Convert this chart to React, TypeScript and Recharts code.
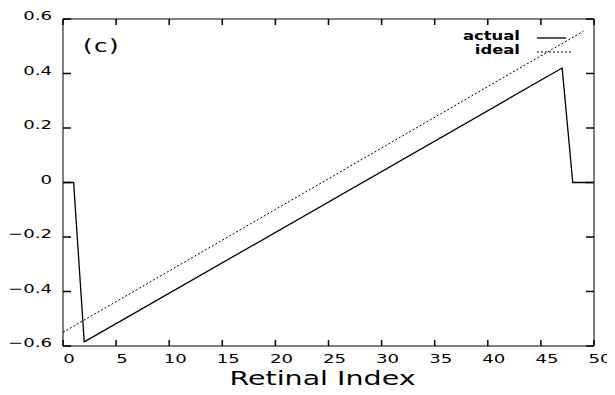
import React from 'react';
import { LineChart, Line, XAxis, YAxis, Label } from 'recharts';

const xTicks = [0, 5, 10, 15, 20, 25, 30, 35, 40, 45, 50];
const yTicks = [-0.6, -0.4, -0.2, 0, 0.2, 0.4, 0.6];

const actualIndex = [0, 1, 2, 47, 48, 50];
const actualValue = [0, 0, -0.585, 0.42, 0, 0];
const idealIndex = [0, 49];
const idealValue = [-0.55, 0.555];
const seriesNames = ['actual', 'ideal'];
const panelTag = '(c)';
const xTitle = 'Retinal Index';

const actualData = actualIndex.map((x, i) => ({ x, y: actualValue[i] }));
const idealData = idealIndex.map((x, i) => ({ x, y: idealValue[i] }));

const FONT = '"DejaVu Sans", sans-serif';
const YTICK = 8;
const XTICK = 6;
const SX = 1.45;

const fmt = (v: number) => String(v).replace('-', '\u2212');

function SText({ x, y, sx = SX, anchor = 'start', size = 12, weight = 'normal', spacing = 0, baseline = 'auto', children }: any) {
  return (
    <text
      transform={`translate(${x},${y}) scale(${sx},1)`}
      textAnchor={anchor}
      dominantBaseline={baseline}
      fontFamily={FONT}
      fontSize={size}
      fontWeight={weight}
      letterSpacing={spacing}
      fill="#000"
    >
      {children}
    </text>
  );
}

function Mark({ x1, y1, x2, y2 }: any) {
  return <path d={`M${x1},${y1}L${x2},${y2}`} stroke="#000" strokeWidth={1.5} fill="none" />;
}

function LeftTick(props: any) {
  const { x, y, payload } = props;
  return (
    <g>
      <Mark x1={x} y1={y} x2={x + YTICK} y2={y} />
      <SText x={x - 11} y={y - 3} anchor="end" baseline="central" size={12.5}>
        {fmt(payload.value)}
      </SText>
    </g>
  );
}

function RightTick(props: any) {
  const { x, y } = props;
  return (
    <g>
      <Mark x1={x - YTICK} y1={y} x2={x} y2={y} />
    </g>
  );
}

function BottomTick(props: any) {
  const { x, y, payload } = props;
  return (
    <g>
      <Mark x1={x} y1={y} x2={x} y2={y - XTICK} />
      <SText x={x + 6} y={y + 13} anchor="middle" baseline="central" size={12.5}>
        {fmt(payload.value)}
      </SText>
    </g>
  );
}

function TopTick(props: any) {
  const { x, y } = props;
  return (
    <g>
      <Mark x1={x} y1={y} x2={x} y2={y + XTICK} />
    </g>
  );
}

function XLabel(props: any) {
  const vb = props.viewBox || { x: 63, y: 346, width: 531, height: 49 };
  return (
    <SText x={vb.x + vb.width / 2 - 6} y={vb.y + vb.height - 10} anchor="middle" size={19} sx={1.5}>
      {xTitle}
    </SText>
  );
}

function TopOverlay(props: any) {
  const vb = props.viewBox || { x: 63, y: 0, width: 531, height: 19 };
  const top = vb.y + vb.height;
  const right = vb.x + vb.width;
  return (
    <g>
      <SText x={vb.x + 20} y={top + 27} baseline="central" size={17} spacing={1}>
        {panelTag}
      </SText>
      {seriesNames.map((name, i) => {
        const y = top + 17 + i * 14;
        const dashed = name === 'ideal';
        return (
          <g key={name}>
            <SText x={right - 74} y={y} anchor="end" baseline="central" size={12} weight="bold" sx={1.37}>
              {name}
            </SText>
            <line
              x1={right - 57}
              x2={dashed ? right - 22 : right - 28}
              y1={y + 2}
              y2={y + 2}
              stroke="#000"
              strokeWidth={dashed ? 1 : 1.3}
              strokeDasharray={dashed ? '2 2' : undefined}
            />
          </g>
        );
      })}
    </g>
  );
}

const axisLineStyle = { stroke: '#000', strokeWidth: 1 };

export default function App() {
  return (
    <div style={{ margin: '-8px', width: 615, height: 395, position: 'relative', background: '#fff' }}>
      <LineChart width={615} height={395} margin={{ top: 0, right: 0, bottom: 0, left: 0 }}>
        <XAxis
          xAxisId="bottom"
          type="number"
          dataKey="x"
          domain={[0, 50]}
          ticks={xTicks}
          interval={0}
          height={49}
          tickSize={0}
          tickMargin={0}
          tickLine={false}
          tick={<BottomTick />}
          axisLine={axisLineStyle}
          label={<Label content={<XLabel />} />}
        />
        <XAxis
          xAxisId="top"
          orientation="top"
          type="number"
          dataKey="x"
          domain={[0, 50]}
          ticks={xTicks}
          interval={0}
          height={19}
          tickSize={0}
          tickMargin={0}
          tickLine={false}
          tick={<TopTick />}
          axisLine={axisLineStyle}
          label={<Label content={<TopOverlay />} />}
        />
        <YAxis
          yAxisId="left"
          type="number"
          domain={[-0.6, 0.6]}
          ticks={yTicks}
          interval={0}
          width={63}
          tickSize={0}
          tickMargin={0}
          tickLine={false}
          tick={<LeftTick />}
          axisLine={axisLineStyle}
        />
        <YAxis
          yAxisId="right"
          orientation="right"
          type="number"
          domain={[-0.6, 0.6]}
          ticks={yTicks}
          interval={0}
          width={21}
          tickSize={0}
          tickMargin={0}
          tickLine={false}
          tick={<RightTick />}
          axisLine={axisLineStyle}
        />
        <Line
          name="ideal"
          data={idealData}
          xAxisId="bottom"
          yAxisId="left"
          dataKey="y"
          type="linear"
          stroke="#000"
          strokeWidth={1}
          strokeDasharray="2 2"
          dot={false}
          isAnimationActive={false}
        />
        <Line
          name="actual"
          data={actualData}
          xAxisId="bottom"
          yAxisId="left"
          dataKey="y"
          type="linear"
          stroke="#000"
          strokeWidth={1.3}
          dot={false}
          isAnimationActive={false}
        />
        <Line
          name="top-ref"
          data={idealData}
          xAxisId="top"
          yAxisId="right"
          dataKey="y"
          type="linear"
          stroke="none"
          dot={false}
          legendType="none"
          isAnimationActive={false}
        />
      </LineChart>
    </div>
  );
}
